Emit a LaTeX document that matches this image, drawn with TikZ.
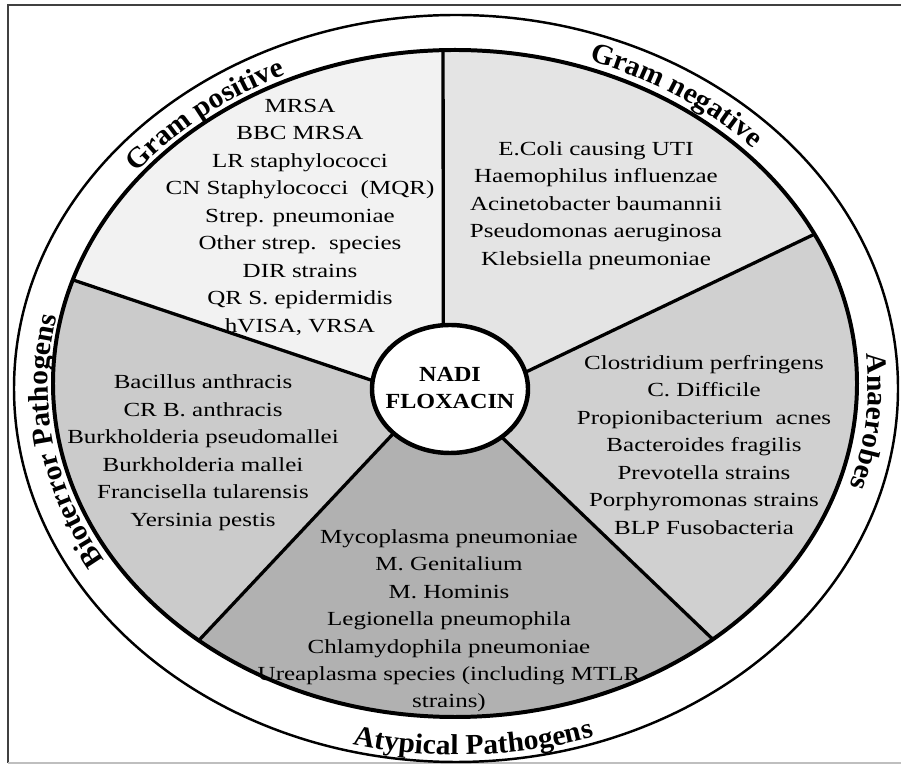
\documentclass[tikz,border=0pt]{standalone}
\usepackage{fontspec}
\setmainfont[FakeStretch=1.25]{Liberation Serif}
\newfontfamily\ringfont[FakeStretch=1.03]{Liberation Serif}
\newfontfamily\hubfont[FakeStretch=1.12]{Liberation Serif}
\usetikzlibrary{calc,decorations.text}

\definecolor{posfill}{HTML}{F2F2F2}
\definecolor{negfill}{HTML}{E4E4E4}
\definecolor{anafill}{HTML}{D0D0D0}
\definecolor{atyfill}{HTML}{B1B1B1}
\definecolor{biofill}{HTML}{CBCBCB}

\newcommand\ringtext{\ringfont\bfseries\fontsize{24.5}{28}\selectfont}

\begin{document}
\begin{tikzpicture}[x=0.03cm,y=0.03cm,
  list/.style={align=center,inner sep=0pt,font=\fontsize{17.07}{23.47}\selectfont},
  spoke/.style={line width=2.8pt},
  ring label/.style={decorate,decoration={text along path,text align=center,text={|\ringtext|#1}}}]
\useasboundingbox (0,0) rectangle (901,765);
% frame
\draw[black!75,line width=1pt] (905,760) -- (8,760) -- (8,2);
\draw[black!25,line width=1pt] (8,2) -- (905,2);

\coordinate (pc) at (455,381.5);
\coordinate (oc) at (456,376.5);
\coordinate (rc) at (458,379);
\coordinate (hc) at (450,376);

% outer ring
\draw[line width=2.1pt] (oc) ellipse [x radius=442, y radius=373.5];

% spoke ends
\coordinate (i1) at ($(hc)+(95:78 and 64)$);
\coordinate (i2) at ($(hc)+(15.1:78 and 64)$);
\coordinate (i3) at ($(hc)+(-48.6:78 and 64)$);
\coordinate (i4) at ($(hc)+(-136.3:78 and 64)$);
\coordinate (i5) at ($(hc)+(172.5:78 and 64)$);
\coordinate (o1) at ($(pc)+(91.7:402 and 333.5)$);
\coordinate (o2) at ($(pc)+(26.6:402 and 333.5)$);
\coordinate (o3) at ($(pc)+(-50.1:402 and 333.5)$);
\coordinate (o4) at ($(pc)+(-129.6:402 and 333.5)$);
\coordinate (o5) at ($(pc)+(161.9:402 and 333.5)$);

% sectors
\fill[posfill] (i1) -- (o1) arc[start angle=91.7, end angle=161.9, x radius=402, y radius=333.5] -- (i5) -- cycle;
\fill[negfill] (i2) -- (o2) arc[start angle=26.6, end angle=91.7, x radius=402, y radius=333.5] -- (i1) -- cycle;
\fill[anafill] (i3) -- (o3) arc[start angle=-50.1, end angle=26.6, x radius=402, y radius=333.5] -- (i2) -- cycle;
\fill[atyfill] (i4) -- (o4) arc[start angle=-129.6, end angle=-50.1, x radius=402, y radius=333.5] -- (i3) -- cycle;
\fill[biofill] (i5) -- (o5) arc[start angle=161.9, end angle=230.4, x radius=402, y radius=333.5] -- (i4) -- cycle;

\draw[spoke] (i1) -- (o1);
\draw[spoke] (i2) -- (o2);
\draw[spoke] (i3) -- (o3);
\draw[spoke] (i4) -- (o4);
\draw[spoke] (i5) -- (o5);
\draw[line width=3.4pt] (pc) ellipse [x radius=402, y radius=333.5];

% hub
\draw[fill=white,line width=3.8pt] (hc) ellipse [x radius=78, y radius=64];
\node (hub) [align=center, inner sep=0pt, font=\hubfont\bfseries\fontsize{18.4}{23.05}\selectfont] at (450,377) {NADI\\FLOXACIN};

% lists
\node (posList) [list] at (300,548) {MRSA\\BBC MRSA\\LR staphylococci\\CN Staphylococci\ \ (MQR)\\Strep. pneumoniae\\Other strep.\ \ species\\DIR strains\\QR S. epidermidis\\hVISA, VRSA};
\node (negList) [list] at (596,559.5) {E.Coli causing UTI\\Haemophilus influenzae\\Acinetobacter baumannii\\Pseudomonas aeruginosa\\Klebsiella pneumoniae};
\node (anaList) [list] at (704,320) {Clostridium perfringens\\C. Difficile\\Propionibacterium\ \ acnes\\Bacteroides fragilis\\Prevotella strains\\Porphyromonas strains\\BLP Fusobacteria};
\node (atyList) [list] at (449,144.3) {Mycoplasma pneumoniae\\M. Genitalium\\M. Hominis\\Legionella pneumophila\\Chlamydophila pneumoniae\\Ureaplasma species (including MTLR\\strains)};
\node (bioList) [list] at (203,312.4) {Bacillus anthracis\\CR B. anthracis\\Burkholderia pseudomallei\\Burkholderia mallei\\Francisella tularensis\\Yersinia pestis};

% ring labels
\path[ring label=Gram positive] ($(rc)+(170:410 and 343)$) arc[start angle=170, end angle=90, x radius=410, y radius=343];
\path[ring label=Gram negative] ($(rc)+(96:410 and 343)$) arc[start angle=96, end angle=16, x radius=410, y radius=343];
\path[ring label=Anaerobes] ($(rc)+(30:410 and 343)$) arc[start angle=30, end angle=-41, x radius=410, y radius=343];
\path[ring label=Bioterror Pathogens] ($(rc)+(225:410 and 343)$) arc[start angle=225, end angle=153, x radius=410, y radius=343];
\path[ring label=Atypical Pathogens] ($(rc)+(-130:437 and 369)$) arc[start angle=-130, end angle=-45.6, x radius=437, y radius=369];
\end{tikzpicture}
\end{document}
